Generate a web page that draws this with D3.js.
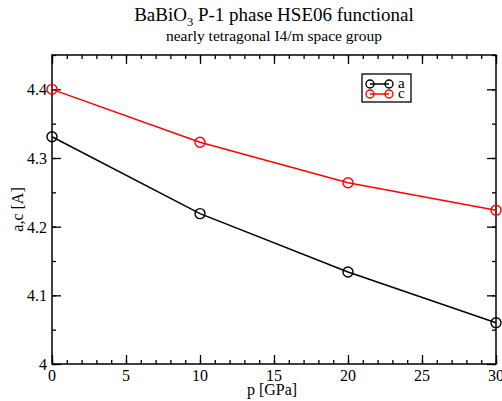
<!DOCTYPE html>
<html>
<head>
<meta charset="utf-8">
<script src="https://cdn.jsdelivr.net/npm/d3@7"></script>
<style>
  body { margin: 0; background: #fff; }
  text { font-family: "Liberation Serif", "DejaVu Serif", serif; }
</style>
</head>
<body>
<div id="chart"></div>
<script>
// pressure values [GPa]
var pressure = [0, 10, 20, 30];
// lattice constants [A]
var aValues = [4.331, 4.219, 4.134, 4.060];
var cValues = [4.400, 4.323, 4.264, 4.224];
var xTicks = [0, 5, 10, 15, 20, 25, 30];
var yTicks = [4, 4.1, 4.2, 4.3, 4.4];

var series = [
  {name: "a", values: aValues, color: "#000000"},
  {name: "c", values: cValues, color: "#ff0000"}
];

var W = 502, H = 401;
var margin = {top: 55, right: 6, bottom: 37, left: 52},
    width = W - margin.left - margin.right,
    height = H - margin.top - margin.bottom;

var svg = d3.select("#chart").append("svg")
  .attr("width", W).attr("height", H);

var g = svg.append("g")
  .attr("transform", "translate(" + margin.left + "," + margin.top + ")");

var x = d3.scaleLinear().domain([0, 30]).range([0, width]);
var y = d3.scaleLinear().domain([4, 4.45]).range([height, 0]);

// minor + major ticks, drawn inward on all four sides
var xMinor = d3.range(0, 31, 1);
var yMinor = d3.range(4, 4.451, 0.05);

function tickAxis(axis, tickVals, size) {
  return axis.tickValues(tickVals).tickSizeInner(size).tickSizeOuter(0).tickFormat("");
}

// bottom
g.append("g").attr("transform", "translate(0," + height + ")")
  .call(tickAxis(d3.axisTop(x), xMinor, 4));
g.append("g").attr("transform", "translate(0," + height + ")")
  .call(tickAxis(d3.axisTop(x), xTicks, 9));
// top
g.append("g").call(tickAxis(d3.axisBottom(x), xMinor, 4));
g.append("g").call(tickAxis(d3.axisBottom(x), xTicks, 9));
// left
g.append("g").call(tickAxis(d3.axisRight(y), yMinor, 4));
g.append("g").call(tickAxis(d3.axisRight(y), yTicks, 9));
// right
g.append("g").attr("transform", "translate(" + width + ",0)")
  .call(tickAxis(d3.axisLeft(y), yMinor, 4));
g.append("g").attr("transform", "translate(" + width + ",0)")
  .call(tickAxis(d3.axisLeft(y), yTicks, 9));

g.selectAll(".domain").remove();
g.selectAll(".tick line").attr("stroke", "#000").attr("stroke-width", 1.3);

// frame
g.append("rect")
  .attr("width", width).attr("height", height)
  .attr("fill", "none").attr("stroke", "#000").attr("stroke-width", 1.5);

// tick labels
g.selectAll(".xlab").data(xTicks).enter().append("text")
  .attr("x", d => x(d)).attr("y", height + 17)
  .attr("text-anchor", "middle").attr("font-size", 16)
  .text(d => d);
g.selectAll(".ylab").data(yTicks).enter().append("text")
  .attr("x", -5).attr("y", d => y(d) + 6)
  .attr("text-anchor", "end").attr("font-size", 16)
  .text(d => d3.format("")(d));

// lines and markers
var line = d3.line()
  .x((d, i) => x(pressure[i]))
  .y(d => y(d));

series.forEach(function(s) {
  g.append("path")
    .datum(s.values)
    .attr("fill", "none")
    .attr("stroke", s.color)
    .attr("stroke-width", 1.5)
    .attr("d", line);
  g.selectAll(null).data(s.values).enter().append("circle")
    .attr("cx", (d, i) => x(pressure[i]))
    .attr("cy", d => y(d))
    .attr("r", 5)
    .attr("fill", "none")
    .attr("stroke", s.color)
    .attr("stroke-width", 1.4);
});

// legend
var lg = svg.append("g").attr("transform", "translate(362,74)");
lg.append("rect").attr("width", 49).attr("height", 28)
  .attr("fill", "#fff").attr("stroke", "#000").attr("stroke-width", 1.3);
series.forEach(function(s, i) {
  var ly = 10 + i * 10;
  lg.append("line").attr("x1", 8).attr("x2", 27).attr("y1", ly).attr("y2", ly)
    .attr("stroke", s.color).attr("stroke-width", 1.5);
  [8, 27].forEach(function(cx) {
    lg.append("circle").attr("cx", cx).attr("cy", ly).attr("r", 4)
      .attr("fill", "none").attr("stroke", s.color).attr("stroke-width", 1.4);
  });
  lg.append("text").attr("x", 36).attr("y", ly + 4)
    .attr("font-size", 15).text(s.name);
});

// titles
var title = svg.append("text")
  .attr("x", margin.left + width / 2).attr("y", 21)
  .attr("text-anchor", "middle").attr("font-size", 19);
title.append("tspan").text("BaBiO");
title.append("tspan").attr("font-size", 12.5).attr("dy", 5).text("3");
title.append("tspan").attr("dy", -5).text(" P-1 phase HSE06 functional");

svg.append("text")
  .attr("x", margin.left + width / 2).attr("y", 40.5)
  .attr("text-anchor", "middle").attr("font-size", 15.5)
  .text("nearly tetragonal I4/m space group");

// axis titles
svg.append("text")
  .attr("x", 272).attr("y", 394.5)
  .attr("text-anchor", "middle").attr("font-size", 16)
  .text("p [GPa]");
svg.append("text")
  .attr("transform", "translate(23," + (margin.top + height / 2) + ") rotate(-90)")
  .attr("text-anchor", "middle").attr("font-size", 16)
  .text("a,c [A]");
</script>
</body>
</html>
